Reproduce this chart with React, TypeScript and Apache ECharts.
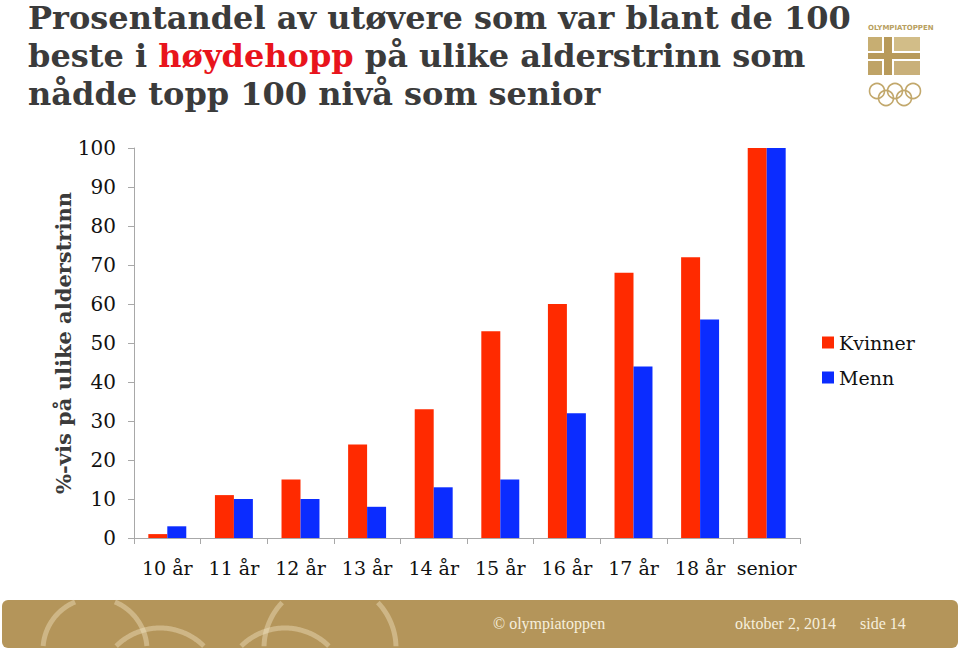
import React, { useEffect, useRef } from "react";
import * as echarts from "echarts";

const categories = ["10 år", "11 år", "12 år", "13 år", "14 år", "15 år", "16 år", "17 år", "18 år", "senior"];
const kvinner = [1, 11, 15, 24, 33, 53, 60, 68, 72, 100];
const menn = [3, 10, 10, 8, 13, 15, 32, 44, 56, 100];
const seriesNames = ["Kvinner", "Menn"];
const yTicks = { min: 0, max: 100, interval: 10 };

const FONT = "DejaVu Serif";
const TFONT = "DejaVu Serif";
const SFONT = "Liberation Serif";
const GOLD = "#b4955a";

function clippedCircle(cx: number, cy: number, r: number, y0: number, y1: number, x0: number, x1: number) {
  const segs: number[][][] = [];
  let cur: number[][] = [];
  const N = 240;
  for (let i = 0; i <= N; i++) {
    const a = (i / N) * Math.PI * 2;
    const x = cx + r * Math.cos(a);
    const y = cy + r * Math.sin(a);
    if (y >= y0 && y <= y1 && x >= x0 && x <= x1) {
      cur.push([x, y]);
    } else if (cur.length) {
      segs.push(cur);
      cur = [];
    }
  }
  if (cur.length) segs.push(cur);
  return segs;
}

function footerRings() {
  const rings = [
    [95, 650, 52],
    [160, 690, 62],
    [285, 690, 62],
    [330, 648, 66],
  ];
  const els: any[] = [];
  rings.forEach(([cx, cy, r]) => {
    clippedCircle(cx, cy, r, 601.5, 646.5, 4, 956).forEach((pts) => {
      els.push({
        type: "polyline",
        shape: { points: pts },
        style: { stroke: "rgba(245,232,200,0.4)", lineWidth: 5, fill: null },
        silent: true,
      });
    });
  });
  return els;
}

export default function App() {
  const ref = useRef<HTMLDivElement>(null);
  useEffect(() => {
    if (!ref.current) return;
    const chart = echarts.init(ref.current, undefined, { renderer: "svg" });
    const option: any = {
      animation: false,
      backgroundColor: "#ffffff",
      title: {
        left: 23,
        top: -6,
        text:
          "Prosentandel av utøvere som var blant de 100\nbeste i {r|høydehopp} på ulike alderstrinn som\nnådde topp 100 nivå som senior",
        textStyle: {
          fontFamily: TFONT,
          fontWeight: "bold",
          fontSize: 32,
          color: "#3b3b3b",
          lineHeight: 38,
          rich: {
            r: {
              fontFamily: TFONT,
              fontWeight: "bold",
              fontSize: 32,
              color: "#e8141c",
              lineHeight: 38,
            },
          },
        },
      },
      grid: { left: 134, right: 160, top: 148, bottom: 112, containLabel: false },
      legend: {
        orient: "vertical",
        left: 817,
        top: 328,
        itemWidth: 12,
        itemHeight: 12,
        itemGap: 16,
        icon: "rect",
        textStyle: { fontFamily: FONT, fontSize: 19, color: "#111" },
        data: seriesNames,
      },
      xAxis: {
        type: "category",
        data: categories,
        axisLine: { lineStyle: { color: "#a8a8a8", width: 1 } },
        axisTick: { show: true, length: 6, lineStyle: { color: "#a8a8a8" } },
        axisLabel: { interval: 0, margin: 20, fontFamily: FONT, fontSize: 19, color: "#111" },
      },
      yAxis: {
        type: "value",
        min: yTicks.min,
        max: yTicks.max,
        interval: yTicks.interval,
        name: "%-vis på ulike alderstrinn",
        nameLocation: "middle",
        nameGap: 60,
        nameMoveOverlap: false,
        nameTextStyle: { fontFamily: FONT, fontWeight: "bold", fontSize: 21, color: "#3b3b3b" },
        axisLine: { show: true, lineStyle: { color: "#a8a8a8", width: 1 } },
        axisTick: { show: true, length: 6, lineStyle: { color: "#a8a8a8" } },
        splitLine: { show: false },
        axisLabel: { margin: 18, fontFamily: FONT, fontSize: 20, color: "#111" },
      },
      series: [
        {
          name: seriesNames[0],
          type: "bar",
          data: kvinner,
          barGap: "0%",
          barCategoryGap: "43%",
          itemStyle: { color: "#ff2a00" },
        },
        {
          name: seriesNames[1],
          type: "bar",
          data: menn,
          barGap: "0%",
          barCategoryGap: "43%",
          itemStyle: { color: "#0b2cff" },
        },
      ],
      graphic: [
        {
          type: "text",
          left: 868,
          top: 24,
          style: {
            text: "OLYMPIATOPPEN",
            fontFamily: "DejaVu Sans",
            fontWeight: "bold",
            fontSize: 7,
            fill: "#b8a060",
          },
        },
        { type: "rect", shape: { x: 868, y: 37, width: 14, height: 14 }, style: { fill: "#c7ae72" } },
        { type: "rect", shape: { x: 894, y: 37, width: 26, height: 14 }, style: { fill: "#d2bd88" } },
        { type: "rect", shape: { x: 868, y: 61, width: 14, height: 14 }, style: { fill: "#bfa366" } },
        { type: "rect", shape: { x: 894, y: 61, width: 26, height: 14 }, style: { fill: "#c9b07a" } },
        { type: "rect", shape: { x: 884, y: 37, width: 8, height: 38 }, style: { fill: "#b89a5a" } },
        { type: "rect", shape: { x: 868, y: 53, width: 52, height: 6 }, style: { fill: "#b89a5a" } },
        ...[
          [877, 91],
          [895, 91],
          [913, 91],
          [886, 98],
          [904, 98],
        ].map(([cx, cy]) => ({
          type: "circle",
          shape: { cx, cy, r: 7.5 },
          style: { fill: null, stroke: "#c2a86c", lineWidth: 1.6 },
        })),
        {
          type: "rect",
          shape: { x: 2, y: 600, width: 956, height: 48, r: 6 },
          style: { fill: GOLD },
        },
        ...footerRings(),
        {
          type: "text",
          left: 493,
          top: 615,
          style: { text: "© olympiatoppen", fontFamily: SFONT, fontSize: 16, fill: "#f6efdd" },
        },
        {
          type: "text",
          left: 735,
          top: 615,
          style: { text: "oktober 2, 2014", fontFamily: SFONT, fontSize: 16, fill: "#f6efdd" },
        },
        {
          type: "text",
          left: 860,
          top: 615,
          style: { text: "side 14", fontFamily: SFONT, fontSize: 16, fill: "#f6efdd" },
        },
      ],
    };
    chart.setOption(option);
    return () => chart.dispose();
  }, []);
  return <div ref={ref} style={{ width: 960, height: 650, position: "absolute", left: 0, top: 0 }} />;
}
